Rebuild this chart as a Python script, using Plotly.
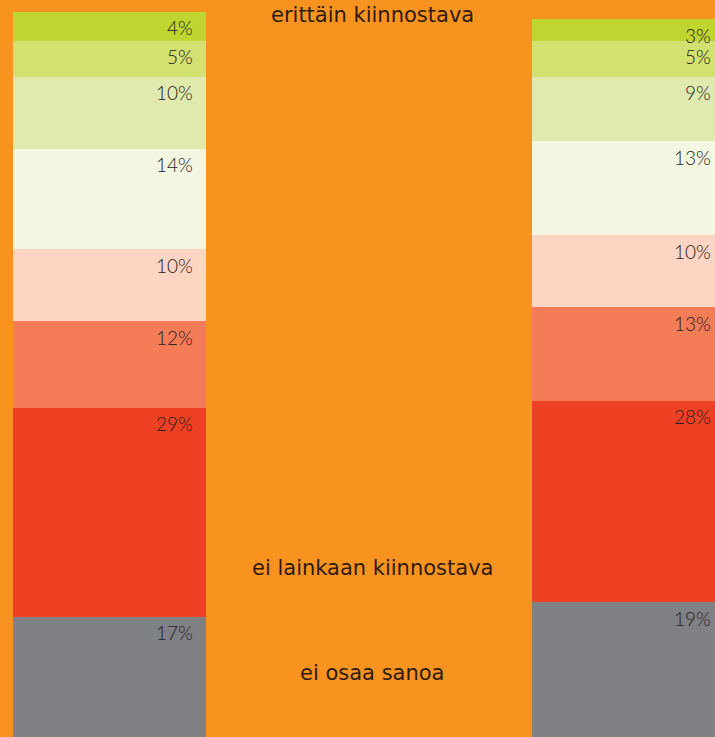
import plotly.graph_objects as go

# Response categories, bottom of the stack first
categories = ["ei osaa sanoa", "ei lainkaan kiinnostava", "2", "3", "4", "5", "6", "erittäin kiinnostava"]
left_values = [17, 29, 12, 10, 14, 10, 5, 4]
right_values = [19, 28, 13, 10, 13, 9, 5, 3]
colors = ["#808184", "#EE4124", "#F47C57", "#FDD5C2", "#F3F6E0", "#E1EAAE", "#D2E170", "#BED62F"]

bar_x = [0, 1]
bar_width = 0.372
label_pad = 11 / 518.5
bg = "#F7931E"

fig = go.Figure()
for i, cat in enumerate(categories):
    fig.add_trace(go.Bar(
        x=bar_x, y=[left_values[i], right_values[i]], name=cat,
        width=bar_width, marker=dict(color=colors[i], line=dict(width=0)),
        hoverinfo="skip", showlegend=False,
    ))

annotations = []
for xi, vals in zip(bar_x, [left_values, right_values]):
    cum = 0
    for v in vals:
        cum += v
        annotations.append(dict(
            x=xi + bar_width / 2 - label_pad, y=cum, xref="x", yref="y",
            text=f"{v}%", showarrow=False, xanchor="right", yanchor="middle",
            yshift=-16,
            font=dict(family="Lato", size=19, color="#2a2020", weight=300),
        ))

center_font = dict(family="DejaVu Sans", size=21, color="#2e1c12")
for txt, yv in [("erittäin kiinnostava", 100.5), ("ei lainkaan kiinnostava", 23.75), ("ei osaa sanoa", 9.2)]:
    annotations.append(dict(
        x=372 / 715, y=yv, xref="paper", yref="y", text=txt, showarrow=False,
        xanchor="center", yanchor="middle", font=center_font,
    ))

fig.update_layout(
    barmode="stack",
    width=715, height=737,
    margin=dict(l=0, r=0, t=0, b=0),
    paper_bgcolor=bg, plot_bgcolor=bg,
    xaxis=dict(range=[-0.2112, 1.1678], visible=False, fixedrange=True),
    yaxis=dict(range=[0.28, 102.64], visible=False, fixedrange=True),
    annotations=annotations,
)

fig.write_html(
    "out.html",
    config={"displayModeBar": False},
    post_script="document.body.style.margin='0';document.body.style.overflow='hidden';",
)
